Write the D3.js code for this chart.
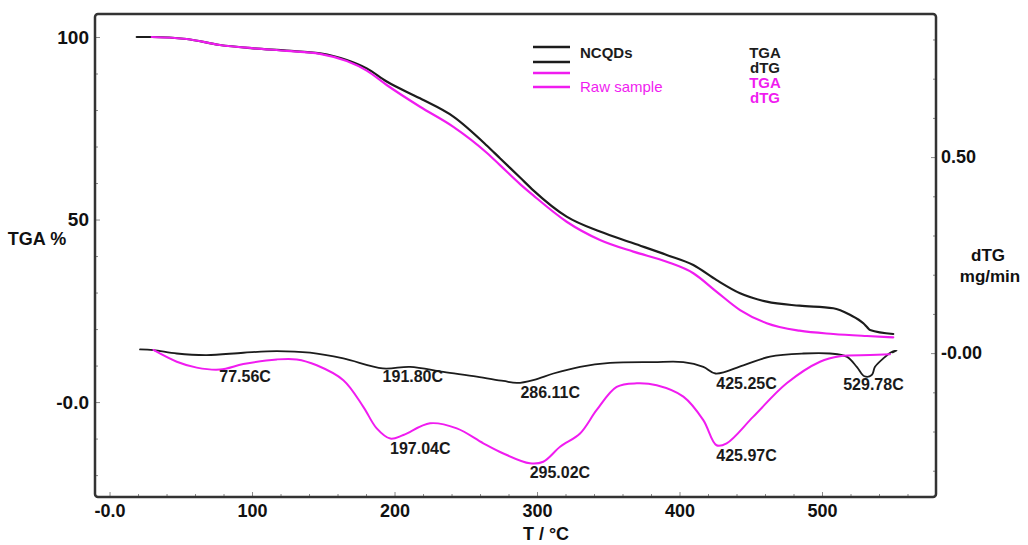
<!DOCTYPE html>
<html>
<head>
<meta charset="utf-8">
<script src="https://cdn.jsdelivr.net/npm/d3@7"></script>
<style>
  body { margin: 0; background: #fff; }
  svg { display: block; }
  text { font-family: "Liberation Sans", Arial, Helvetica, sans-serif; }
</style>
</head>
<body>
<svg id="chart" width="1028" height="545"></svg>
<script>
// ---- TGA traces: temperature (°C) and residual mass (%) ----
const tgaNcqdT = [19.1, 29.6, 54.2, 77.5, 100.9, 124.4, 147.7, 166.5, 180.5, 194.5, 217.9, 241.3, 264.7, 274.0, 288.1, 297.4, 320.8, 344.2, 367.6, 391.0, 409.7, 426.1, 442.5, 461.2, 484.2, 507.9, 519.6, 529.0, 531.4, 533.7, 550.0];
const tgaNcqdW = [100.0, 100.0, 99.45, 97.8, 96.9, 96.25, 95.5, 93.7, 91.4, 87.8, 83.2, 78.2, 70.3, 66.8, 61.5, 58.0, 50.8, 46.7, 43.5, 40.3, 37.55, 33.4, 29.8, 27.5, 26.4, 25.7, 23.9, 21.6, 20.65, 19.75, 18.65];

const tgaRawT = [29.6, 54.2, 77.5, 100.9, 124.4, 147.7, 166.5, 180.5, 194.5, 217.9, 241.3, 264.7, 274.0, 288.1, 297.4, 320.8, 344.2, 367.6, 391.0, 409.7, 426.1, 442.5, 461.2, 484.2, 507.9, 531.4, 550.0];
const tgaRawW = [100.0, 99.45, 97.8, 96.9, 96.2, 95.4, 93.4, 90.8, 86.85, 80.9, 75.4, 68.3, 64.9, 59.7, 56.6, 49.4, 44.4, 41.2, 38.45, 35.3, 30.2, 25.2, 21.6, 19.55, 18.65, 18.1, 17.75];

// ---- dTG traces: temperature (°C) and mass-loss rate (mg/min) ----
const dtgNcqdT = [21.4, 30.8, 47.2, 68.2, 93.9, 117.4, 140.7, 164.1, 191.80, 210.9, 234.3, 257.7, 276.4, 286.11, 298.0, 311.5, 330.2, 351.2, 381.6, 402.7, 416.7, 425.25, 444.8, 463.5, 486.9, 505.6, 517.3, 524.4, 529.78, 534.9, 537.2, 543.0, 548.9, 552.4, 549.6];
const dtgNcqdV = [0.0094, 0.0077, -0.001, -0.005, 0.001, 0.005, 0.001, -0.0136, -0.039, -0.035, -0.048, -0.060, -0.071, -0.076, -0.068, -0.052, -0.035, -0.025, -0.023, -0.023, -0.035, -0.052, -0.031, -0.009, -0.001, -0.001, -0.009, -0.035, -0.059, -0.056, -0.035, -0.0136, 0.003, 0.006, 0.002];

const dtgRawT = [30.8, 47.2, 61.2, 77.56, 93.9, 117.4, 131.4, 145.4, 164.1, 178.1, 187.5, 197.04, 206.2, 224.9, 243.7, 262.3, 276.4, 295.02, 304.4, 316.2, 330.2, 341.9, 355.9, 370.0, 384.0, 402.7, 416.7, 425.97, 433.1, 451.8, 475.2, 498.6, 512.6, 533.7, 547.7];
const dtgRawV = [0.008, -0.022, -0.037, -0.042, -0.028, -0.016, -0.016, -0.031, -0.069, -0.137, -0.192, -0.218, -0.209, -0.179, -0.192, -0.230, -0.256, -0.281, -0.277, -0.239, -0.205, -0.145, -0.086, -0.077, -0.082, -0.111, -0.171, -0.235, -0.230, -0.162, -0.077, -0.022, -0.008, -0.005, -0.003];

// ---- dTG peak temperatures (°C) ----
const peakNcqdT = [191.80, 286.11, 425.25, 529.78];
const peakRawT = [77.56, 197.04, 295.02, 425.97];

// ---- axis ticks and their labels ----
const xTicks = [0, 100, 200, 300, 400, 500];
const xTickLabels = ["-0.0", "100", "200", "300", "400", "500"];
const tgaTicks = [100, 50, 0];
const tgaTickLabels = ["100", "50", "-0.0"];
const dtgTicks = [0.5, 0];
const dtgTickLabels = ["0.50", "-0.00"];

const seriesNames = ["NCQDs", "Raw sample"];
const legendKinds = ["TGA", "dTG", "TGA", "dTG"];

// ---- layout ----
const frame = { left: 95, right: 936, top: 14, bottom: 497 };
const BLACK = "#1c1c1c";
const MAGENTA = "#f01cf0";
const TICK = "#8a8a8a";

const svg = d3.select("#chart");

const x = d3.scaleLinear().domain([-10.2, 580]).range([frame.left, frame.right]);
const yTga = d3.scaleLinear().domain([-26, 106.3]).range([frame.bottom, frame.top]);
const yDtg = d3.scaleLinear().domain([-0.367, 0.865]).range([frame.bottom, frame.top]);

// ---- minor ticks (inside the frame) ----
function minorAxis(axis, g) {
  g.call(axis);
  g.select(".domain").remove();
  g.selectAll(".tick line").attr("stroke", TICK).attr("stroke-width", 1);
}
minorAxis(d3.axisBottom(x).tickValues(d3.range(0, 580, 20).filter(v => v % 100 !== 0)).tickSize(-3).tickFormat(""),
  svg.append("g").attr("transform", `translate(0,${frame.bottom})`));
minorAxis(d3.axisLeft(yTga).tickValues(d3.range(-20, 106, 10).filter(v => v % 50 !== 0)).tickSize(-3).tickFormat(""),
  svg.append("g").attr("transform", `translate(${frame.left},0)`));
minorAxis(d3.axisRight(yDtg).tickValues(d3.range(-3, 9).map(v => v / 10).filter(v => v !== 0 && v !== 0.5)).tickSize(-3).tickFormat(""),
  svg.append("g").attr("transform", `translate(${frame.right},0)`));

// ---- major ticks with labels ----
function styleMajor(g, size) {
  g.select(".domain").remove();
  g.selectAll(".tick line").attr("stroke", TICK).attr("stroke-width", 1);
  g.selectAll(".tick text")
    .attr("fill", "#111")
    .attr("font-size", size)
    .attr("font-weight", "bold")
    .attr("font-family", '"Liberation Sans", Arial, sans-serif');
}
const gx = svg.append("g").attr("transform", `translate(0,${frame.bottom})`)
  .call(d3.axisBottom(x).tickValues(xTicks).tickSize(-5).tickPadding(7)
    .tickFormat((d, i) => xTickLabels[i]));
styleMajor(gx, 18);

const gyl = svg.append("g").attr("transform", `translate(${frame.left},0)`)
  .call(d3.axisLeft(yTga).tickValues(tgaTicks).tickSize(-5).tickPadding(6)
    .tickFormat((d, i) => tgaTickLabels[i]));
styleMajor(gyl, 19);

const gyr = svg.append("g").attr("transform", `translate(${frame.right},0)`)
  .call(d3.axisRight(yDtg).tickValues(dtgTicks).tickSize(-5).tickPadding(5)
    .tickFormat((d, i) => dtgTickLabels[i]));
styleMajor(gyr, 18);

// ---- frame ----
svg.append("rect")
  .attr("x", frame.left).attr("y", frame.top)
  .attr("width", frame.right - frame.left).attr("height", frame.bottom - frame.top)
  .attr("rx", 3)
  .attr("fill", "none").attr("stroke", "#333").attr("stroke-width", 2.5);

// ---- axis titles ----
svg.append("text").attr("x", 546).attr("y", 540).attr("text-anchor", "middle")
  .attr("font-size", 18).attr("font-weight", "bold").attr("fill", "#111").text("T / °C");
svg.append("text").attr("x", 37).attr("y", 245).attr("text-anchor", "middle")
  .attr("font-size", 18).attr("font-weight", "bold").attr("fill", "#111").text("TGA %");
svg.append("text").attr("x", 988).attr("y", 261).attr("text-anchor", "middle")
  .attr("font-size", 17).attr("font-weight", "bold").attr("fill", "#111").text("dTG");
svg.append("text").attr("x", 990).attr("y", 282).attr("text-anchor", "middle")
  .attr("font-size", 17).attr("font-weight", "bold").attr("fill", "#111").text("mg/min");

// ---- curves ----
const zip = (ts, vs) => ts.map((t, i) => [t, vs[i]]);
const lineTga = d3.line().x(d => x(d[0])).y(d => yTga(d[1])).curve(d3.curveMonotoneX);
const lineDtg = d3.line().x(d => x(d[0])).y(d => yDtg(d[1])).curve(d3.curveCatmullRom.alpha(0.5));

const curves = [
  { d: lineDtg(zip(dtgNcqdT, dtgNcqdV)), c: BLACK, w: 1.8 },
  { d: lineTga(zip(tgaNcqdT, tgaNcqdW)), c: BLACK, w: 2.2 },
  { d: lineDtg(zip(dtgRawT, dtgRawV)), c: MAGENTA, w: 2 },
  { d: lineTga(zip(tgaRawT, tgaRawW)), c: MAGENTA, w: 2.2 }
];
svg.append("g").selectAll("path").data(curves).join("path")
  .attr("d", c => c.d).attr("fill", "none")
  .attr("stroke", c => c.c).attr("stroke-width", c => c.w)
  .attr("stroke-linejoin", "round").attr("stroke-linecap", "round");

// ---- peak annotations ----
const peakLabelDx = { ncqd: [30, 33, 31, 9], raw: [25, 30, 30, 30] };
const peakLabelDy = { ncqd: [14, 15, 15, 14], raw: [12, 15, 15, 16] };
function peakValue(ts, vs, t) { return vs[ts.indexOf(t)]; }
const peaks = [
  ...peakNcqdT.map((t, i) => ({ t, v: peakValue(dtgNcqdT, dtgNcqdV, t), dx: peakLabelDx.ncqd[i], dy: peakLabelDy.ncqd[i] })),
  ...peakRawT.map((t, i) => ({ t, v: peakValue(dtgRawT, dtgRawV, t), dx: peakLabelDx.raw[i], dy: peakLabelDy.raw[i] }))
];
svg.append("g").selectAll("text").data(peaks).join("text")
  .attr("x", p => x(p.t) + p.dx)
  .attr("y", p => yDtg(p.v) + p.dy)
  .attr("text-anchor", "middle")
  .attr("font-size", 16).attr("font-weight", "bold").attr("fill", "#1a1a1a")
  .text(p => p.t.toFixed(2) + "C");

// ---- legend ----
const legendRows = [
  { y: 47, c: BLACK }, { y: 62, c: BLACK }, { y: 73, c: MAGENTA }, { y: 87, c: MAGENTA }
];
const lg = svg.append("g");
lg.selectAll("line").data(legendRows).join("line")
  .attr("x1", 533).attr("x2", 570)
  .attr("y1", r => r.y).attr("y2", r => r.y)
  .attr("stroke", r => r.c).attr("stroke-width", 2.4);
lg.append("text").attr("x", 580).attr("y", 58)
  .attr("font-size", 15).attr("font-weight", "bold").attr("fill", BLACK).text(seriesNames[0]);
lg.append("text").attr("x", 580).attr("y", 92)
  .attr("font-size", 15).attr("fill", MAGENTA).text(seriesNames[1]);
lg.selectAll("text.kind").data(legendKinds).join("text").attr("class", "kind")
  .attr("x", 765).attr("y", (d, i) => 58 + i * 15)
  .attr("text-anchor", "middle")
  .attr("font-size", 15).attr("font-weight", "bold")
  .attr("fill", (d, i) => i < 2 ? BLACK : MAGENTA)
  .text(d => d);
</script>
</body>
</html>
